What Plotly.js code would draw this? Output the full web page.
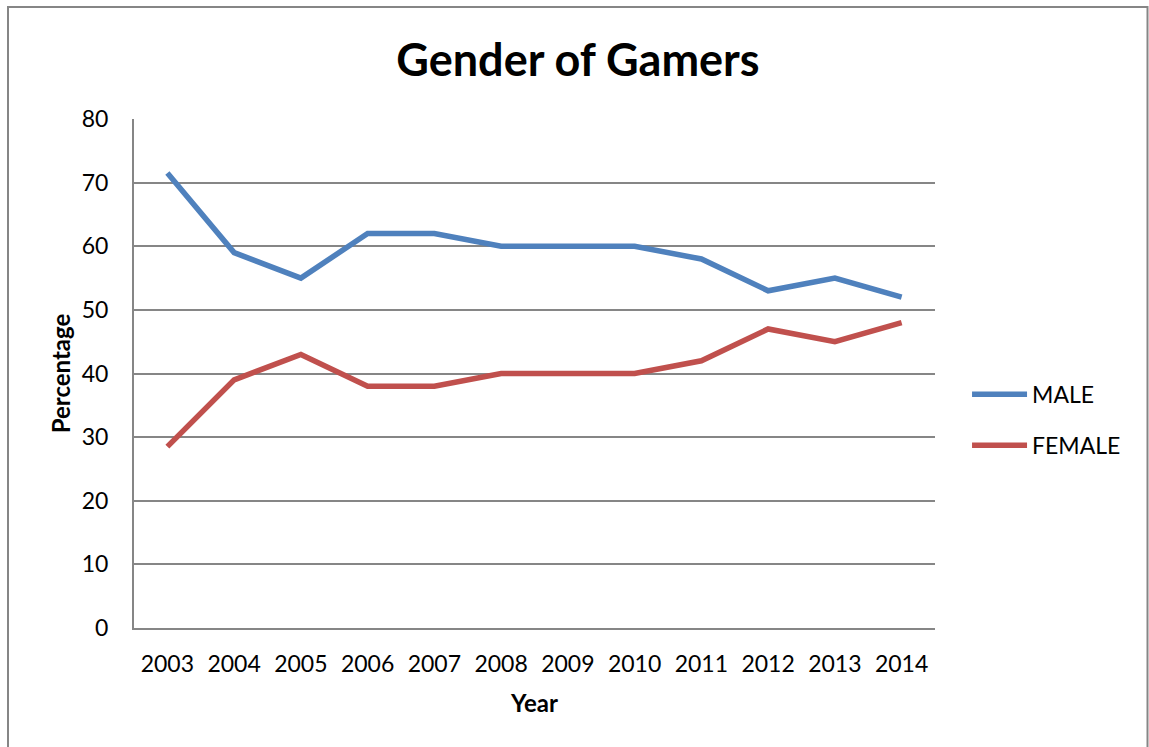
<!DOCTYPE html>
<html>
<head>
<meta charset="utf-8">
<script src="https://cdn.plot.ly/plotly-3.0.1.min.js"></script>
<style>html,body{margin:0;padding:0;background:#fff;}#chart{width:1149px;height:747px;}</style>
</head>
<body>
<div id="chart"></div>
<script>
const years = ['2003','2004','2005','2006','2007','2008','2009','2010','2011','2012','2013','2014'];
const male = [71.5, 59, 55, 62, 62, 60, 60, 60, 58, 53, 55, 52];
const female = [28.5, 39, 43, 38, 38, 40, 40, 40, 42, 47, 45, 48];
const yTicks = [0, 10, 20, 30, 40, 50, 60, 70, 80];

const font = 'Lato, "Open Sans", "Liberation Sans", sans-serif';

const traces = [
  {x: years, y: male, name: 'MALE', type: 'scatter', mode: 'lines', legendgroup: 'm',
   line: {color: '#4F81BD', width: 5.5}},
  {x: years, y: female, name: 'FEMALE', type: 'scatter', mode: 'lines', legendgroup: 'f',
   line: {color: '#C0504D', width: 5.5}}
];

const layout = {
  width: 1149, height: 747,
  margin: {l: 134, r: 214, t: 119, b: 119},
  paper_bgcolor: '#fff', plot_bgcolor: '#fff',
  font: {family: font, size: 23, color: '#000'},
  title: {text: '<b>Gender of Gamers</b>', font: {family: font, size: 45, color: '#000'},
          x: 0.503, xanchor: 'center', y: 0.92, yanchor: 'middle'},
  xaxis: {type: 'category', range: [-0.5, 11.5], showgrid: false, zeroline: false,
          showline: true, linecolor: '#868686', linewidth: 2,
          ticks: '', ticklabelstandoff: 14, tickfont: {size: 23},
          title: {text: '<b>Year</b>', font: {size: 24}, standoff: 20}},
  yaxis: {range: [0, 80], tickvals: yTicks, showgrid: true, gridcolor: '#868686', gridwidth: 2,
          zeroline: false, showline: true, linecolor: '#868686', linewidth: 2,
          ticks: '', ticklabelstandoff: 19, tickfont: {size: 23},
          title: {text: '<b>Percentage</b>', font: {size: 24}, standoff: 4}},
  showlegend: true,
  legend: {x: 1.04, y: 0.409, xanchor: 'left', yanchor: 'middle', font: {size: 23},
           itemwidth: 55, tracegroupgap: 18, bgcolor: 'rgba(0,0,0,0)'},
  shapes: [
    {type: 'rect', xref: 'paper', yref: 'paper', x0: -0.1573, x1: 1.2653, y0: -0.3, y1: 1.22,
     line: {color: '#868686', width: 2}, fillcolor: 'rgba(0,0,0,0)', layer: 'below'}
  ]
};

Plotly.newPlot('chart', traces, layout, {displayModeBar: false, staticPlot: true});
</script>
</body>
</html>
